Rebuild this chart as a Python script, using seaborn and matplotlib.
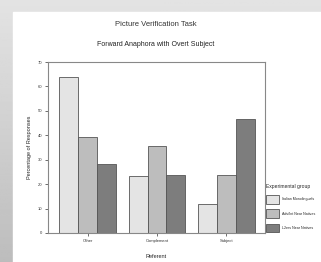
import numpy as np
import pandas as pd
import seaborn as sns
import matplotlib.pyplot as plt

# Datos
referents = ['Other', 'Complement', 'Subject']
groups = ['Italian Monolinguals', 'Adv/Int Near Natives', 'L2ers Near Natives']
italian = [63.8, 23.3, 11.9]
advanced = [39.4, 35.5, 23.9]
l2ers = [28.1, 23.9, 46.8]
yticks = [0, 10, 20, 30, 40, 50, 60, 70]

df = pd.DataFrame({
    'Referent': referents * 3,
    'Group': [groups[0]] * 3 + [groups[1]] * 3 + [groups[2]] * 3,
    'Percent': italian + advanced + l2ers,
})

sns.set_style('white')
plt.rcParams['font.family'] = ['Liberation Sans', 'DejaVu Sans']

fig = plt.figure(figsize=(3.21, 2.62), dpi=100)

# Fondo gris degradado con panel blanco
bg = fig.add_axes([0, 0, 1, 1])
grad = np.linspace(0.89, 0.74, 256).reshape(-1, 1)
bg.imshow(grad, cmap='gray', vmin=0, vmax=1, aspect='auto', extent=[0, 1, 0, 1])
bg.add_patch(plt.Rectangle((13 / 321, 0), 1, 1 - 12 / 262, color='white'))
bg.set_xlim(0, 1)
bg.set_ylim(0, 1)
bg.axis('off')

ax = fig.add_axes([48 / 321, 29 / 262, 217 / 321, 171 / 262])
palette = ['#e4e4e4', '#bdbdbd', '#7d7d7d']
sns.barplot(data=df, x='Referent', y='Percent', hue='Group', palette=palette,
            width=0.82, edgecolor='#555555', linewidth=0.6, ax=ax, legend=False)

ax.set_xlim(-0.573, 2.558)
ax.set_ylim(0, 70)
ax.set_yticks(yticks)
ax.set_yticklabels([str(t) for t in yticks], fontsize=3)
ax.set_xticks(range(3))
ax.set_xticklabels(referents, fontsize=3)
ax.tick_params(axis='both', length=2, width=0.5, pad=2, colors='#333333')
ax.tick_params(axis='y', left=True)
ax.tick_params(axis='x', bottom=True)
ax.set_xlabel('Referent', fontsize=4, labelpad=8)
ax.set_ylabel('Percentage of Responses', fontsize=4, labelpad=4)
for s in ax.spines.values():
    s.set_color('#888888')
    s.set_linewidth(0.8)

fig.text(156 / 321, 1 - 24 / 262, 'Picture Verification Task', fontsize=5.5,
         ha='center', va='center', color='#333333')
fig.text(156 / 321, 1 - 44 / 262, 'Forward Anaphora with Overt Subject', fontsize=5,
         ha='center', va='center', color='#222222')

handles = [plt.Rectangle((0, 0), 1, 1, facecolor=c, edgecolor='#555555', linewidth=0.6)
           for c in palette]
leg = fig.legend(handles, groups, loc='upper left', bbox_to_anchor=(265 / 321, 1 - 183 / 262),
                 title='Experimental group', fontsize=2.6, title_fontsize=3.6, frameon=False,
                 handlelength=3.4, handleheight=3.2, labelspacing=1.6, borderaxespad=0,
                 handletextpad=0.8, alignment='left')

fig.savefig('out.png', dpi=100)
